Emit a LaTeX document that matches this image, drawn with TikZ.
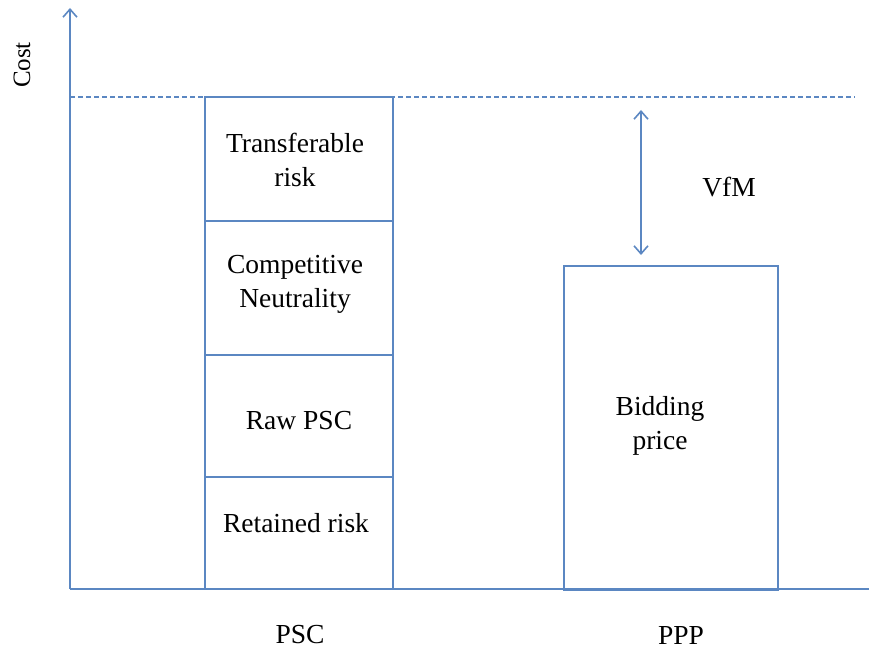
\documentclass[tikz,border=0pt]{standalone}
\usepackage{fontspec}
\setmainfont{Liberation Serif}
\usetikzlibrary{arrows.meta}
\definecolor{lineblue}{HTML}{5B87C2}
\begin{document}
\begin{tikzpicture}[x=1pt,y=-1pt,
  bar/.style={rectangle, inner sep=0pt, anchor=north west},
  edge/.style={draw=lineblue, line width=2pt},
  txt/.style={font=\fontsize{27.5}{34}\selectfont, align=center, inner sep=0pt},
  axis/.style={draw=lineblue, line width=2pt},
  barb/.tip={Straight Barb[length=8pt,width=14pt,line width=1.6pt]},
  tip/.style={-barb}
]
\useasboundingbox (0,0) rectangle (869,652);
% axes
\coordinate (O) at (70,589);
\coordinate (ytop) at (70,8);
\coordinate (xend) at (869,589);
\draw[axis,tip] (O) -- (ytop);
\draw[axis] (O) -- (xend);
% dashed reference
\coordinate (d0) at (70,97);
\coordinate (d1) at (855,97);
\draw[lineblue, line width=1.4pt, dash pattern=on 5pt off 3pt] (d0) -- (d1);
% PSC stack
\node[bar, minimum width=188pt, minimum height=124pt] (tr) at (205,97) {};
\node[bar, minimum width=188pt, minimum height=134pt] (cn) at (205,221) {};
\node[bar, minimum width=188pt, minimum height=122pt] (raw) at (205,355) {};
\node[bar, minimum width=188pt, minimum height=112pt] (ret) at (205,477) {};
\draw[edge] (tr.north west) rectangle (ret.south east);
\draw[edge] (cn.north west) -- (cn.north east);
\draw[edge] (raw.north west) -- (raw.north east);
\draw[edge] (ret.north west) -- (ret.north east);
\node[txt] (trt) at (295,160) {Transferable\\risk};
\node[txt] (cnt) at (295,284) {Competitive\\Neutrality};
\node[txt] (rawt) at (299,421) {Raw PSC};
\node[txt] (rett) at (296,523) {Retained risk};
% PPP
\node[bar, edge, minimum width=214pt, minimum height=324pt] (bid) at (563,265) {};
\node[txt] (bidt) at (660,426) {Bidding\\price};
% VfM arrow
\coordinate (va) at (641,110);
\coordinate (vb) at (641,255);
\draw[axis, barb-barb] (va) -- (vb);
\node[txt] (vfm) at (729,187) {VfM};
% labels
\node[txt] (psc) at (300,635) {PSC};
\node[txt] (ppp) at (681,635) {PPP};
\node[txt, rotate=90, font=\fontsize{25}{30}\selectfont] (cost) at (22,65) {Cost};
\end{tikzpicture}
\end{document}
